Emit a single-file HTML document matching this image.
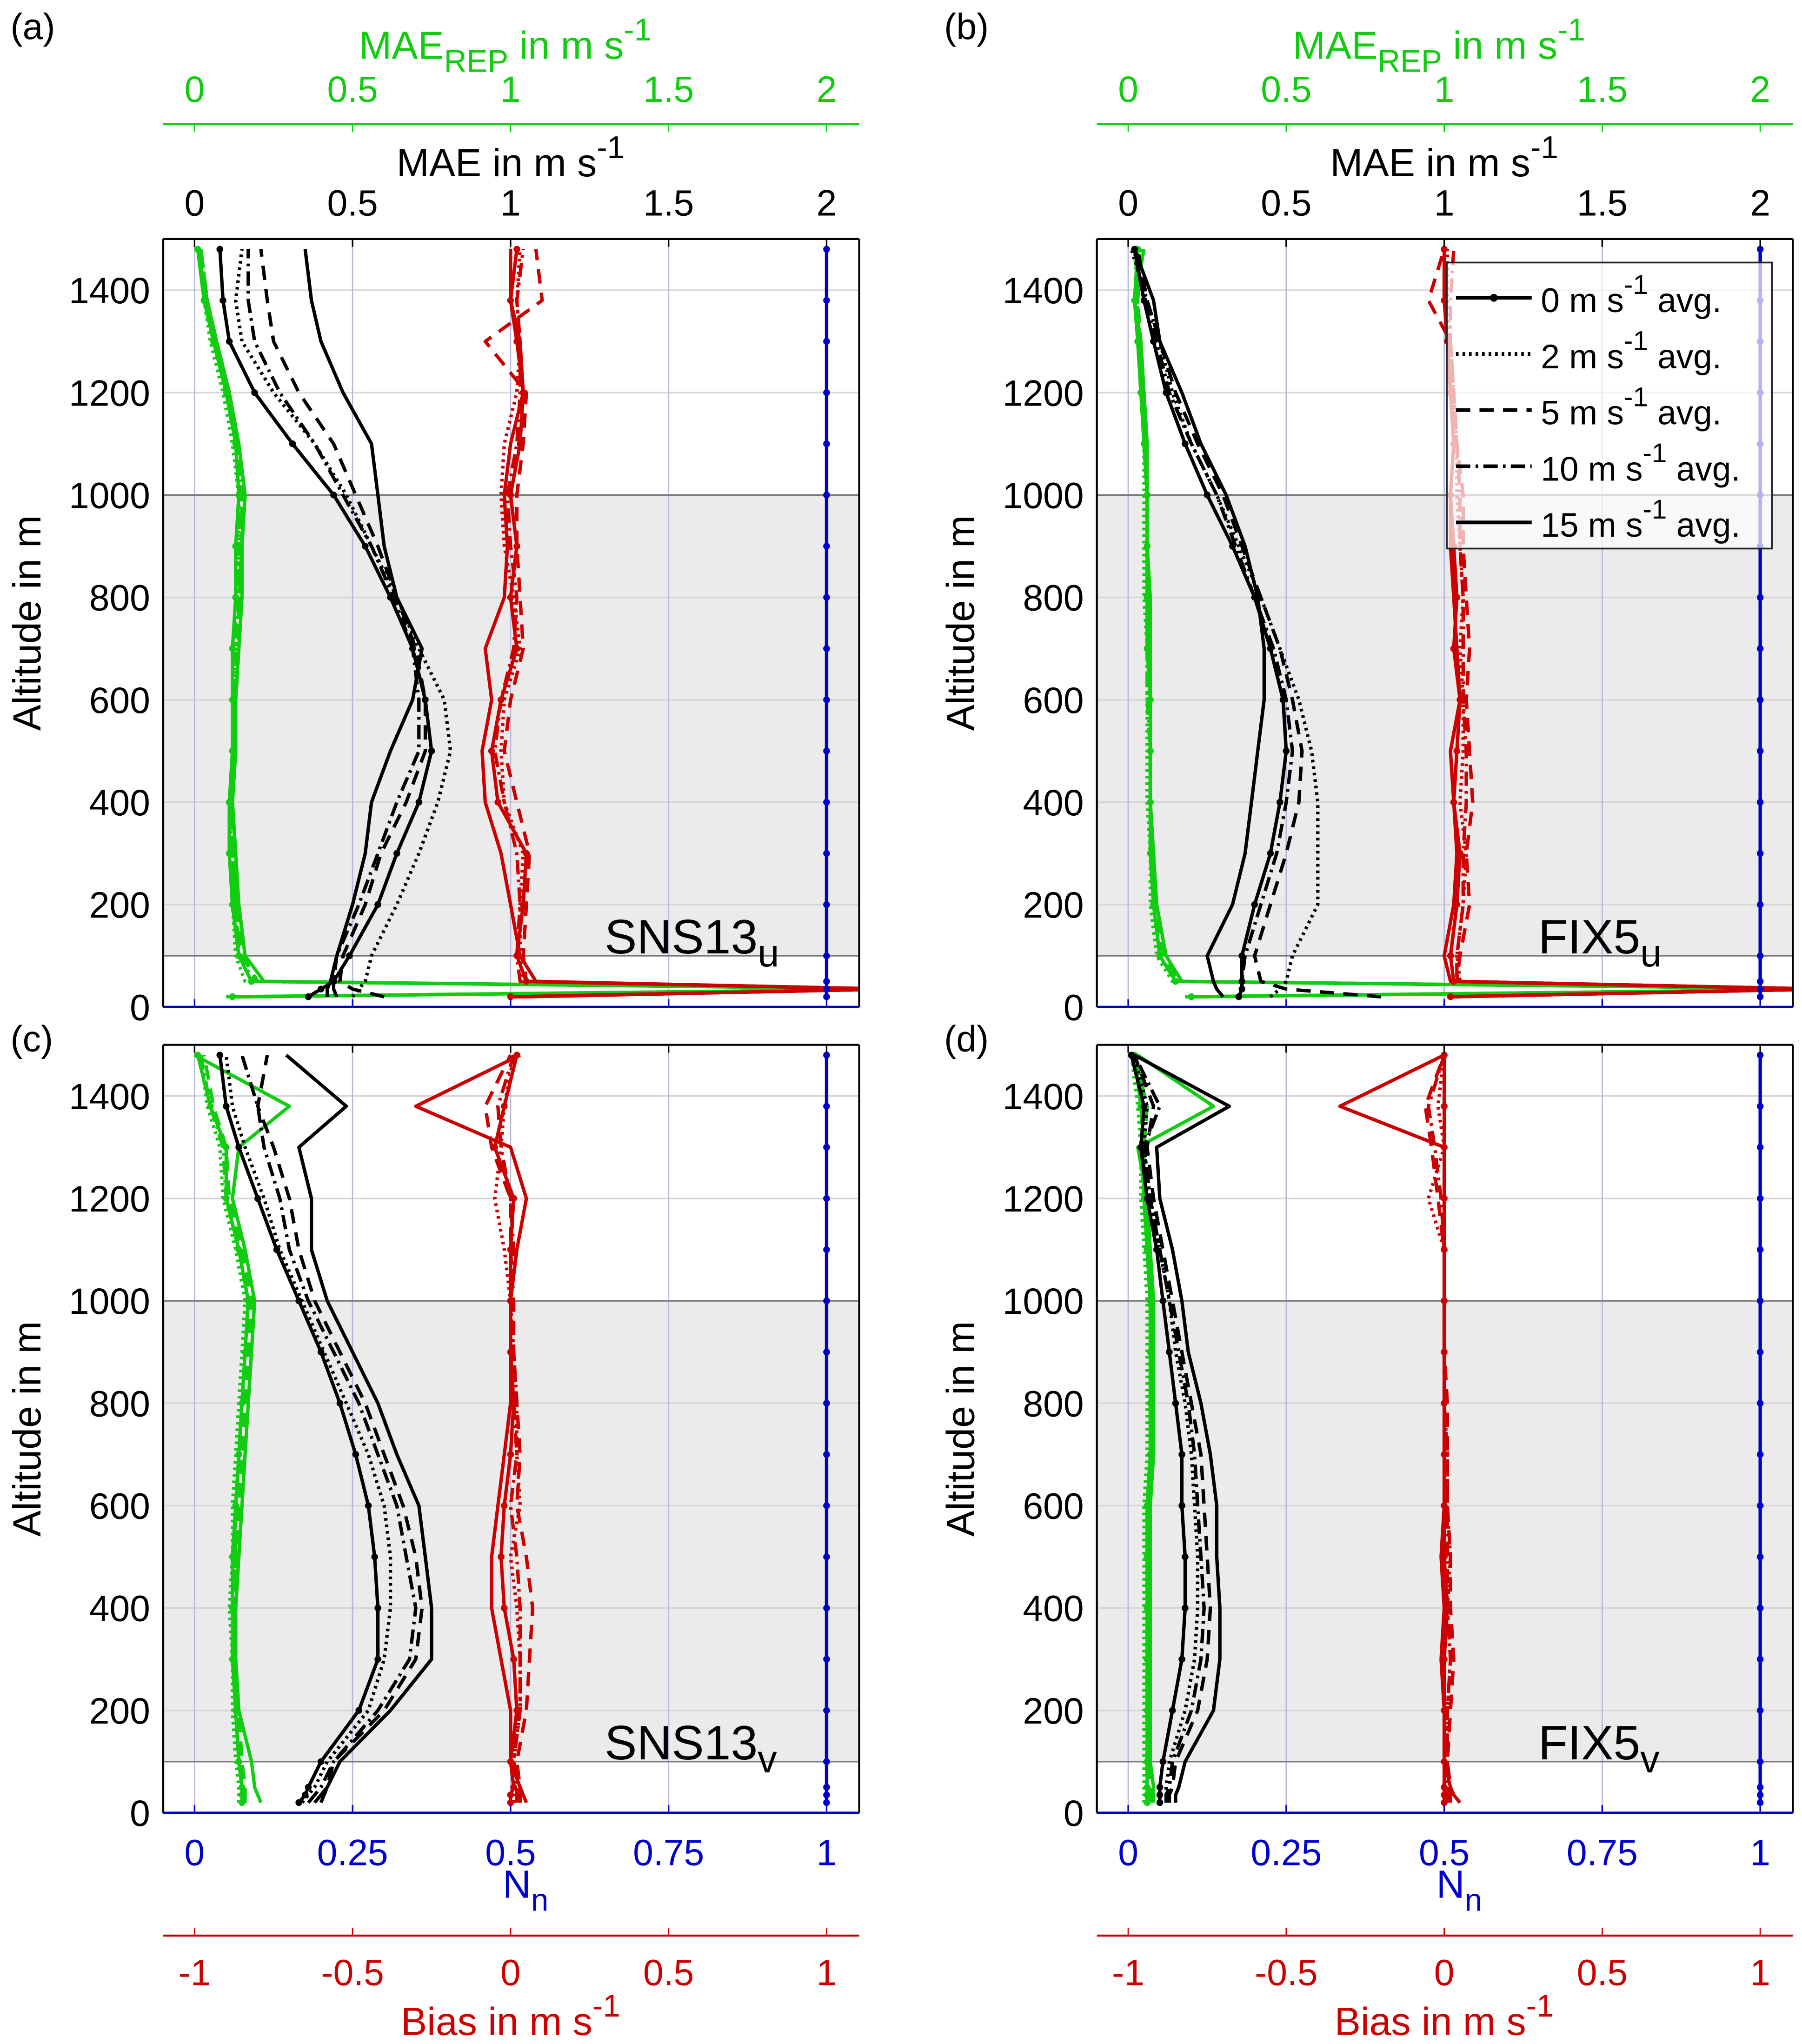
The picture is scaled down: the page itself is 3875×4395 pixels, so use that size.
<!DOCTYPE html>
<html><head><meta charset="utf-8"><style>
html,body{margin:0;padding:0;background:#fff;}
svg{display:block;font-family:"Liberation Sans",sans-serif;}
</style></head><body>
<svg id="fig" width="3875" height="4395" viewBox="0 0 1380 1565" preserveAspectRatio="none" xmlns="http://www.w3.org/2000/svg"></svg>
<script>
const levels = [20,35,50,100,200,300,400,500,600,700,800,900,1000,1100,1200,1300,1380,1480];
const nnValues = [1,1,1,1,1,1,1,1,1,1,1,1,1,1,1,1,1,1];
const maeTicks = [0,0.5,1,1.5,2];
const maeTickLabels = ["0","0.5","1","1.5","2"];
const nnTicks = [0,0.25,0.5,0.75,1];
const nnTickLabels = ["0","0.25","0.5","0.75","1"];
const biasTicks = [-1,-0.5,0,0.5,1];
const biasTickLabels = ["-1","-0.5","0","0.5","1"];
const altTicks = [0,200,400,600,800,1000,1200,1400];
const legendLabels = ["0","2","5","10","15"];

// Panel (a) SNS13_u
const a_mae0 = [0.36,0.40,0.44,0.49,0.58,0.64,0.71,0.75,0.73,0.69,0.62,0.54,0.44,0.31,0.19,0.11,0.09,0.08];
const a_mae2 = [0.50,0.52,0.54,0.56,0.64,0.71,0.77,0.81,0.79,0.71,0.64,0.56,0.48,0.38,0.25,0.15,0.13,0.15];
const a_mae5 = [0.60,0.50,0.46,0.47,0.54,0.59,0.67,0.73,0.73,0.70,0.64,0.58,0.51,0.44,0.33,0.25,0.23,0.21];
const a_mae10 = [0.45,0.44,0.44,0.45,0.52,0.58,0.64,0.71,0.71,0.69,0.63,0.56,0.47,0.38,0.27,0.19,0.17,0.17];
const a_mae15 = [0.42,0.42,0.43,0.45,0.50,0.54,0.56,0.62,0.69,0.72,0.64,0.60,0.58,0.56,0.47,0.40,0.37,0.35];
const a_rep0 = [0.12,2.3,0.18,0.14,0.12,0.11,0.11,0.12,0.12,0.12,0.13,0.13,0.14,0.13,0.10,0.06,0.03,0.01];
const a_rep2 = [0.10,2.3,0.16,0.13,0.12,0.11,0.12,0.12,0.13,0.13,0.13,0.14,0.14,0.12,0.09,0.05,0.03,0.01];
const a_rep5 = [0.14,2.3,0.20,0.15,0.13,0.12,0.12,0.13,0.13,0.14,0.14,0.15,0.15,0.13,0.10,0.06,0.04,0.02];
const a_rep10 = [0.13,2.3,0.19,0.14,0.13,0.12,0.12,0.12,0.13,0.13,0.14,0.14,0.15,0.14,0.11,0.07,0.04,0.02];
const a_rep15 = [0.15,2.3,0.22,0.16,0.14,0.13,0.12,0.13,0.13,0.14,0.15,0.15,0.16,0.14,0.11,0.07,0.04,0.01];
const a_bias0 = [0.00,1.2,0.05,0.02,0.04,0.05,-0.04,-0.06,-0.03,0.02,0.00,0.02,0.00,0.03,0.04,0.02,0.00,0.02];
const a_bias2 = [0.02,1.2,0.04,0.03,0.03,0.04,-0.02,-0.03,-0.02,0.03,0.01,-0.02,-0.03,-0.02,0.02,0.03,0.02,0.03];
const a_bias5 = [0.03,1.2,0.05,0.04,0.05,0.06,0.02,-0.02,0.00,0.04,0.03,0.02,0.02,0.04,0.05,-0.08,0.10,0.08];
const a_bias10 = [0.02,1.2,0.03,0.02,0.03,0.02,-0.02,-0.05,-0.03,0.01,0.02,0.00,-0.01,0.02,0.03,0.03,0.02,0.04];
const a_bias15 = [0.05,1.2,0.08,0.03,0.00,-0.03,-0.08,-0.09,-0.06,-0.08,-0.02,-0.01,-0.02,0.00,0.04,0.03,0.00,0.00];

// Panel (b) FIX5_u
const b_mae0 = [0.35,0.36,0.36,0.36,0.40,0.45,0.48,0.50,0.49,0.45,0.40,0.33,0.25,0.18,0.12,0.08,0.05,0.02];
const b_mae2 = [0.45,0.48,0.50,0.52,0.60,0.60,0.60,0.58,0.54,0.48,0.42,0.35,0.28,0.20,0.14,0.10,0.06,0.01];
const b_mae5 = [0.80,0.50,0.42,0.40,0.45,0.50,0.54,0.55,0.52,0.48,0.42,0.36,0.30,0.22,0.15,0.10,0.06,0.03];
const b_mae10 = [0.35,0.36,0.36,0.37,0.42,0.47,0.50,0.52,0.50,0.46,0.40,0.34,0.28,0.20,0.13,0.09,0.05,0.02];
const b_mae15 = [0.30,0.28,0.27,0.25,0.33,0.37,0.39,0.41,0.43,0.43,0.41,0.37,0.31,0.23,0.17,0.10,0.08,0.02];
const b_rep0 = [0.20,2.3,0.15,0.10,0.08,0.07,0.07,0.07,0.07,0.06,0.06,0.06,0.06,0.05,0.04,0.03,0.02,0.03];
const b_rep2 = [0.18,2.3,0.14,0.09,0.07,0.07,0.06,0.06,0.06,0.06,0.05,0.05,0.05,0.05,0.04,0.03,0.03,0.02];
const b_rep5 = [0.22,2.3,0.16,0.11,0.08,0.08,0.07,0.07,0.07,0.07,0.06,0.06,0.06,0.05,0.05,0.04,0.03,0.04];
const b_rep10 = [0.19,2.3,0.15,0.10,0.08,0.07,0.07,0.07,0.06,0.06,0.06,0.06,0.06,0.05,0.04,0.03,0.03,0.03];
const b_rep15 = [0.21,2.3,0.17,0.12,0.09,0.08,0.07,0.07,0.07,0.07,0.07,0.06,0.06,0.06,0.05,0.04,0.02,0.05];
const b_bias0 = [0.02,1.2,0.03,0.02,0.04,0.05,0.03,0.04,0.05,0.03,0.04,0.03,0.02,0.03,0.02,0.01,0.00,0.00];
const b_bias2 = [0.04,1.2,0.05,0.04,0.06,0.07,0.05,0.06,0.06,0.05,0.06,0.05,0.04,0.04,0.03,0.02,0.01,0.01];
const b_bias5 = [0.03,1.2,0.04,0.05,0.08,0.07,0.09,0.08,0.07,0.08,0.07,0.06,0.06,0.04,0.03,0.02,-0.05,0.00];
const b_bias10 = [0.03,1.2,0.04,0.04,0.06,0.06,0.07,0.07,0.06,0.06,0.06,0.05,0.05,0.04,0.03,0.02,0.02,0.03];
const b_bias15 = [0.01,1.2,0.02,0.00,0.03,0.04,0.03,0.02,0.05,0.04,0.03,0.02,0.02,0.03,0.02,0.01,0.00,0.00];

// Panel (c) SNS13_v
const c_mae0 = [0.33,0.35,0.36,0.40,0.52,0.58,0.58,0.57,0.55,0.51,0.46,0.40,0.33,0.26,0.20,0.14,0.10,0.08];
const c_mae2 = [0.34,0.36,0.38,0.42,0.55,0.60,0.62,0.62,0.60,0.55,0.48,0.41,0.34,0.27,0.22,0.16,0.12,0.10];
const c_mae5 = [0.40,0.41,0.42,0.44,0.60,0.70,0.72,0.70,0.66,0.60,0.54,0.46,0.38,0.33,0.30,0.25,0.20,0.23];
const c_mae10 = [0.36,0.38,0.40,0.44,0.58,0.68,0.70,0.67,0.64,0.58,0.52,0.44,0.36,0.30,0.27,0.22,0.20,0.15];
const c_mae15 = [0.38,0.40,0.42,0.46,0.62,0.75,0.75,0.73,0.71,0.64,0.58,0.50,0.42,0.37,0.37,0.33,0.48,0.29];
const c_rep0 = [0.15,0.15,0.15,0.14,0.13,0.12,0.12,0.12,0.13,0.14,0.15,0.16,0.17,0.14,0.10,0.10,0.05,0.01];
const c_rep2 = [0.14,0.14,0.14,0.13,0.12,0.12,0.11,0.12,0.12,0.13,0.14,0.15,0.16,0.13,0.09,0.08,0.04,0.02];
const c_rep5 = [0.16,0.16,0.16,0.15,0.14,0.13,0.13,0.13,0.14,0.15,0.16,0.17,0.18,0.15,0.11,0.10,0.06,0.03];
const c_rep10 = [0.15,0.15,0.15,0.14,0.13,0.12,0.12,0.13,0.13,0.14,0.15,0.16,0.17,0.14,0.10,0.09,0.05,0.02];
const c_rep15 = [0.21,0.20,0.19,0.18,0.14,0.13,0.13,0.14,0.15,0.16,0.17,0.18,0.19,0.16,0.12,0.14,0.30,0.00];
const c_bias0 = [0.00,0.00,0.01,0.00,0.02,0.01,-0.02,-0.03,-0.02,0.00,0.01,0.00,0.00,0.00,0.01,-0.05,-0.02,0.02];
const c_bias2 = [0.01,0.01,0.02,0.01,0.03,0.03,0.02,0.00,0.03,0.02,0.02,0.01,0.00,-0.02,-0.05,-0.03,-0.02,0.01];
const c_bias5 = [0.03,0.03,0.03,0.02,0.05,0.06,0.07,0.05,0.02,0.03,0.02,0.01,0.01,0.00,0.00,-0.06,-0.08,0.00];
const c_bias10 = [0.02,0.02,0.02,0.01,0.03,0.03,0.03,0.02,0.00,0.02,0.01,0.00,0.00,0.01,0.00,-0.03,-0.04,0.01];
const c_bias15 = [0.05,0.04,0.03,0.00,0.00,-0.03,-0.06,-0.06,-0.04,-0.02,0.00,0.00,0.00,0.02,0.05,0.00,-0.30,0.03];

// Panel (d) FIX5_v
const d_mae0 = [0.10,0.10,0.10,0.11,0.14,0.17,0.18,0.18,0.17,0.17,0.15,0.13,0.11,0.09,0.06,0.04,0.05,0.01];
const d_mae2 = [0.12,0.12,0.12,0.13,0.18,0.21,0.22,0.22,0.21,0.20,0.18,0.15,0.13,0.10,0.07,0.05,0.06,0.02];
const d_mae5 = [0.13,0.13,0.14,0.15,0.22,0.25,0.26,0.25,0.24,0.23,0.20,0.17,0.14,0.11,0.08,0.06,0.08,0.02];
const d_mae10 = [0.12,0.12,0.13,0.14,0.20,0.23,0.24,0.23,0.22,0.21,0.19,0.16,0.13,0.10,0.07,0.05,0.10,0.02];
const d_mae15 = [0.15,0.15,0.16,0.18,0.27,0.29,0.29,0.28,0.28,0.26,0.23,0.19,0.17,0.14,0.10,0.09,0.32,0.02];
const d_rep0 = [0.06,0.06,0.06,0.06,0.06,0.06,0.06,0.06,0.06,0.07,0.07,0.07,0.07,0.06,0.05,0.05,0.04,0.02];
const d_rep2 = [0.05,0.05,0.05,0.05,0.05,0.05,0.05,0.05,0.05,0.06,0.06,0.06,0.06,0.05,0.04,0.04,0.03,0.01];
const d_rep5 = [0.07,0.07,0.07,0.07,0.06,0.06,0.06,0.06,0.06,0.07,0.07,0.07,0.07,0.06,0.05,0.05,0.06,0.02];
const d_rep10 = [0.06,0.06,0.06,0.06,0.06,0.06,0.06,0.06,0.06,0.07,0.07,0.07,0.07,0.06,0.05,0.04,0.06,0.02];
const d_rep15 = [0.08,0.08,0.08,0.07,0.07,0.07,0.07,0.07,0.07,0.08,0.08,0.08,0.08,0.07,0.06,0.03,0.27,0.03];
const d_bias0 = [0.00,0.00,0.00,0.00,0.00,0.00,0.01,0.00,0.00,0.00,0.00,0.00,0.00,0.00,0.00,0.00,0.00,0.00];
const d_bias2 = [0.01,0.01,0.01,0.01,0.01,0.02,0.01,0.02,0.01,0.01,0.00,0.00,0.00,0.00,-0.05,0.00,-0.02,0.00];
const d_bias5 = [0.02,0.02,0.02,0.01,0.02,0.03,0.02,0.02,0.01,0.01,0.01,0.00,0.00,0.00,-0.02,-0.04,-0.06,0.00];
const d_bias10 = [0.01,0.01,0.01,0.01,0.01,0.02,0.01,0.01,0.01,0.01,0.00,0.00,0.00,0.00,-0.01,-0.03,-0.05,0.00];
const d_bias15 = [0.05,0.03,0.02,0.00,0.00,-0.01,0.00,-0.01,0.00,0.00,0.00,0.00,0.00,0.00,0.00,0.00,-0.33,0.00];

const NS = "http://www.w3.org/2000/svg";
const svg = document.getElementById("fig");
const GREEN = "#11cc11", RED = "#cc0000", BLUE = "#0000cc";
const styles = [
  {dash:null, markers:true},
  {dash:"2,3", markers:false},
  {dash:"11,7", markers:false},
  {dash:"11,4,2,4", markers:false},
  {dash:null, markers:false}
];
function el(tag, attrs, parent){
  const e = document.createElementNS(NS, tag);
  for (const k in attrs) e.setAttribute(k, attrs[k]);
  (parent||svg).appendChild(e);
  return e;
}
function txt(x,y,s,attrs,parent){
  const t = el("text", Object.assign({x:x,y:y},attrs), parent);
  t.textContent = s; return t;
}
function richText(x,y,parts,attrs,parent){
  const t = el("text", Object.assign({x:x,y:y},attrs), parent);
  parts.forEach(p=>{
    const ts = document.createElementNS(NS,"tspan");
    ts.textContent = p[0];
    if (p[1]==="sub"){ ts.setAttribute("dy","10"); ts.setAttribute("font-size","0.8em"); }
    if (p[1]==="sup"){ ts.setAttribute("dy","-14"); ts.setAttribute("font-size","0.8em"); }
    if (p[1]==="base"){ ts.setAttribute("dy", p[2]); }
    t.appendChild(ts);
  });
  return t;
}

const panels = [
  {id:"a", x0:125, y0:183, label:"(a)", name:"SNS13", sub:"u", top:true,
   mae:[a_mae0,a_mae2,a_mae5,a_mae10,a_mae15], rep:[a_rep0,a_rep2,a_rep5,a_rep10,a_rep15], bias:[a_bias0,a_bias2,a_bias5,a_bias10,a_bias15]},
  {id:"b", x0:840, y0:183, label:"(b)", name:"FIX5", sub:"u", top:true, legend:true,
   mae:[b_mae0,b_mae2,b_mae5,b_mae10,b_mae15], rep:[b_rep0,b_rep2,b_rep5,b_rep10,b_rep15], bias:[b_bias0,b_bias2,b_bias5,b_bias10,b_bias15]},
  {id:"c", x0:125, y0:800, label:"(c)", name:"SNS13", sub:"v", top:false,
   mae:[c_mae0,c_mae2,c_mae5,c_mae10,c_mae15], rep:[c_rep0,c_rep2,c_rep5,c_rep10,c_rep15], bias:[c_bias0,c_bias2,c_bias5,c_bias10,c_bias15]},
  {id:"d", x0:840, y0:800, label:"(d)", name:"FIX5", sub:"v", top:false,
   mae:[d_mae0,d_mae2,d_mae5,d_mae10,d_mae15], rep:[d_rep0,d_rep2,d_rep5,d_rep10,d_rep15], bias:[d_bias0,d_bias2,d_bias5,d_bias10,d_bias15]}
];
const W = 533, H = 588, UNIT = 242;

panels.forEach(p=>{
  const g = el("g",{});
  
  
  const x0=p.x0, x1=p.x0+W, y0=p.y0, y1=p.y0+H;
  const zero = x0+24;
  const xMae = v => zero + v*UNIT;
  const xNn = v => zero + v*2*UNIT;
  const xBias = v => zero + (v+1)*UNIT;
  const yAlt = a => y1 - a*(H/1500);

  const clip = el("clipPath",{id:"clip"+p.id}, g);
  el("rect",{x:x0,y:y0,width:W,height:H}, clip);

  const shade = el("rect",{x:x0,y:yAlt(1000),width:W,height:yAlt(100)-yAlt(1000),fill:"#ebebeb"}, g);
  
  
  altTicks.forEach(a=>{
    if (a===0) return;
    el("line",{x1:x0,x2:x1,y1:yAlt(a),y2:yAlt(a),stroke:"#d6d6d6","stroke-width":1.2}, g);
  });
  maeTicks.forEach(v=>{
    el("line",{x1:xMae(v),x2:xMae(v),y1:y0,y2:y1,stroke:"#b8b8d8","stroke-width":1}, g);
  });
  [100,1000].forEach(a=>{
    el("line",{x1:x0,x2:x1,y1:yAlt(a),y2:yAlt(a),stroke:"#7a7a7a","stroke-width":1.2}, g);
  });

  const lines = el("g",{"clip-path":"url(#clip"+p.id+")"}, g);
  function series(vals, xf, color, st, name){
    const pts = vals.map((v,i)=>xf(v).toFixed(1)+","+yAlt(levels[i]).toFixed(1)).join(" ");
    const pl = el("polyline",{points:pts,fill:"none",stroke:color,"stroke-width":2.6,"stroke-linejoin":"round"}, lines);
    if (st.dash) pl.setAttribute("stroke-dasharray", st.dash);
    
    
    if (st.markers){
      vals.forEach((v,i)=>{
        const c = el("circle",{cx:xf(v),cy:yAlt(levels[i]),r:2.6,fill:color}, lines);
        
        
      });
    }
  }
  p.rep.forEach((s,i)=>series(s, xMae, GREEN, styles[i], 'mae-rep-'+legendLabels[i]+'ms-line'));
  p.mae.forEach((s,i)=>series(s, xMae, "#000", styles[i], 'mae-'+legendLabels[i]+'ms-line'));
  p.bias.forEach((s,i)=>series(s, xBias, RED, styles[i], 'bias-'+legendLabels[i]+'ms-line'));
  series(nnValues, xNn, BLUE, styles[0], 'nn-line');

  el("line",{x1:x0,x2:x1,y1:y0,y2:y0,stroke:"#000","stroke-width":1.5}, g);
  el("line",{x1:x0,x2:x0,y1:y0,y2:y1,stroke:"#000","stroke-width":1.5}, g);
  el("line",{x1:x1,x2:x1,y1:y0,y2:y1,stroke:"#000","stroke-width":1.5}, g);
  el("line",{x1:x0,x2:x1,y1:y1,y2:y1,stroke:BLUE,"stroke-width":1.8}, g);
  maeTicks.forEach(v=>{
    el("line",{x1:xMae(v),x2:xMae(v),y1:y0,y2:y0+6,stroke:"#000","stroke-width":1.2}, g);
    el("line",{x1:xNn(v/2),x2:xNn(v/2),y1:y1,y2:y1-6,stroke:BLUE,"stroke-width":1.2}, g);
  });

  altTicks.forEach(a=>{
    const t = txt(x0-10, yAlt(a)+10, String(a), {"font-size":28,"text-anchor":"end",fill:"#000"}, g);
    
    
  });
  const yl = txt(0,0,"Altitude in m",{"font-size":30,"text-anchor":"middle",fill:"#000",transform:"translate("+(x0-94)+","+((y0+y1)/2)+") rotate(-90)"}, g);
  
  

  const pl = txt(x0-117, p.top ? 30 : 805, p.label, {"font-size":28,fill:"#000"}, g);
  
  

  const sl = richText(x1-195, y1-41, [[p.name],[p.sub,"sub"]], {"font-size":37,fill:"#000"}, g);
  
  

  if (p.top){
    maeTicks.forEach((v,i)=>{
      const t = txt(xMae(v), y0-18, maeTickLabels[i], {"font-size":28,"text-anchor":"middle",fill:"#000"}, g);
      
      
    });
    const mt = richText(zero+UNIT, y0-48, [["MAE in m s"],["-1","sup"]], {"font-size":30,"text-anchor":"middle",fill:"#000"}, g);
    
    
    const gy = 95;
    el("line",{x1:x0,x2:x1,y1:gy,y2:gy,stroke:GREEN,"stroke-width":1.5}, g);
    maeTicks.forEach((v,i)=>{
      el("line",{x1:xMae(v),x2:xMae(v),y1:gy,y2:gy+6,stroke:GREEN,"stroke-width":1}, g);
      const t = txt(xMae(v), gy-17, maeTickLabels[i], {"font-size":28,"text-anchor":"middle",fill:GREEN}, g);
      
      
    });
    const gt = richText(zero+UNIT-4, 45, [["MAE"],["REP","sub"],[" in m s","base","-10"],["-1","sup"]], {"font-size":30,"text-anchor":"middle",fill:GREEN}, g);
    
    
  } else {
    nnTicks.forEach((v,i)=>{
      const t = txt(xNn(v), 1428, nnTickLabels[i], {"font-size":28,"text-anchor":"middle",fill:BLUE}, g);
      
      
    });
    const nt = richText(zero+UNIT-6, 1453, [["N"],["n","sub"]], {"font-size":30,"text-anchor":"start",fill:BLUE}, g);
    
    
    const ry = 1482;
    el("line",{x1:x0,x2:x1,y1:ry,y2:ry,stroke:RED,"stroke-width":1.5}, g);
    biasTicks.forEach((v,i)=>{
      el("line",{x1:xBias(v),x2:xBias(v),y1:ry,y2:ry-6,stroke:RED,"stroke-width":1}, g);
      const t = txt(xBias(v), 1520, biasTickLabels[i], {"font-size":28,"text-anchor":"middle",fill:RED}, g);
      
      
    });
    const bt = richText(zero+UNIT, 1558, [["Bias in m s"],["-1","sup"]], {"font-size":30,"text-anchor":"middle",fill:RED}, g);
    
    
  }

  if (p.legend){
    const lg = el("g",{}, g);
    
    
    el("rect",{x:1108,y:201,width:249,height:219,fill:"#fff","fill-opacity":0.7,stroke:"#222","stroke-width":1.3}, lg);
    legendLabels.forEach((lab,i)=>{
      const ly = 228 + i*43;
      const e = el("g",{}, lg);
      
      
      const ln = el("line",{x1:1115,x2:1173,y1:ly,y2:ly,stroke:"#000","stroke-width":2.8}, e);
      if (styles[i].dash) ln.setAttribute("stroke-dasharray", styles[i].dash);
      if (styles[i].markers) el("circle",{cx:1144,cy:ly,r:3,fill:"#000"}, e);
      richText(1180, ly+11, [[lab+" m s"],["-1","sup"],[" avg.","base","14"]], {"font-size":26,fill:"#000"}, e);
    });
  }
});
</script>
</body></html>
